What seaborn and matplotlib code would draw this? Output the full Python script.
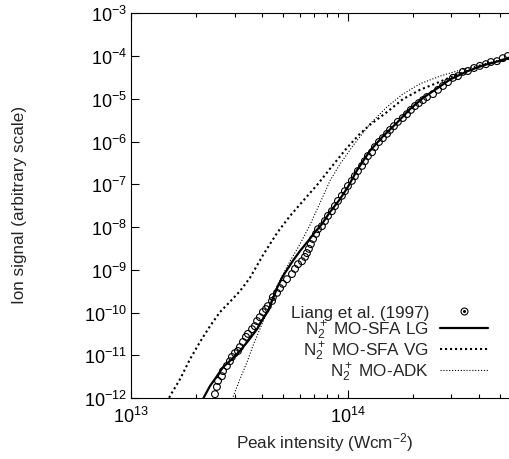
import numpy as np
import matplotlib
matplotlib.use("Agg")
import matplotlib.pyplot as plt
import seaborn as sns
from matplotlib.lines import Line2D
from matplotlib.ticker import LogLocator, NullLocator

# values, stored as log10(intensity / W cm^-2) and log10(signal)
exp_log_i = [13.387, 13.396, 13.401, 13.419, 13.424, 13.442, 13.456, 13.465, 13.479, 13.493,
             13.502, 13.516, 13.530, 13.539, 13.558, 13.571, 13.581, 13.594, 13.608, 13.622,
             13.631, 13.650, 13.654, 13.673, 13.687, 13.700, 13.719, 13.742, 13.756, 13.770,
             13.788, 13.802, 13.811, 13.820, 13.829, 13.839, 13.853, 13.862, 13.880, 13.894,
             13.908, 13.926, 13.940, 13.954, 13.972, 13.986, 14.000, 14.018, 14.032, 14.046,
             14.065, 14.078, 14.092, 14.111, 14.124, 14.143, 14.161, 14.180, 14.194, 14.212,
             14.230, 14.253, 14.272, 14.290, 14.309, 14.327, 14.346, 14.364, 14.392, 14.415,
             14.438, 14.461, 14.484, 14.507, 14.530, 14.553, 14.581, 14.608, 14.636, 14.659,
             14.687, 14.714, 14.737]
exp_log_s = [-11.91, -11.74, -11.60, -11.49, -11.37, -11.25, -11.14, -11.04, -10.95, -10.90,
             -10.81, -10.69, -10.57, -10.50, -10.39, -10.32, -10.20, -10.11, -9.99, -9.92,
             -9.85, -9.73, -9.64, -9.54, -9.43, -9.33, -9.22, -9.10, -8.98, -8.87,
             -8.80, -8.70, -8.61, -8.51, -8.40, -8.28, -8.16, -8.05, -7.98, -7.86,
             -7.74, -7.63, -7.51, -7.39, -7.27, -7.16, -7.04, -6.92, -6.81, -6.69,
             -6.57, -6.46, -6.34, -6.25, -6.13, -6.01, -5.92, -5.82, -5.73, -5.64,
             -5.54, -5.45, -5.36, -5.26, -5.17, -5.10, -5.03, -4.96, -4.89, -4.79,
             -4.70, -4.61, -4.51, -4.47, -4.37, -4.35, -4.28, -4.23, -4.19, -4.14,
             -4.12, -4.05, -4.00]

lg_log_i = [13.332, 13.364, 13.396, 13.424, 13.465, 13.502, 13.539, 13.581, 13.608, 13.631,
            13.654, 13.677, 13.700, 13.742, 13.779, 13.816, 13.848, 13.880, 13.917, 13.963,
            14.000, 14.041, 14.101, 14.161, 14.226, 14.286, 14.346, 14.410, 14.470, 14.548,
            14.622, 14.700, 14.760]
lg_log_s = [-12.02, -11.72, -11.49, -11.28, -11.09, -10.90, -10.67, -10.39, -10.15, -9.97,
            -9.68, -9.38, -9.15, -8.82, -8.56, -8.33, -8.12, -7.93, -7.65, -7.35,
            -7.06, -6.68, -6.22, -5.88, -5.56, -5.24, -4.98, -4.76, -4.55, -4.36,
            -4.22, -4.11, -4.01]

vg_log_i = [13.166, 13.180, 13.226, 13.272, 13.318, 13.364, 13.410, 13.456, 13.502, 13.548,
            13.608, 13.673, 13.733, 13.793, 13.862, 13.931, 13.995, 14.055, 14.101, 14.180,
            14.253, 14.332, 14.410, 14.484, 14.548, 14.608, 14.700, 14.760]
vg_log_s = [-12.10, -11.95, -11.56, -11.09, -10.69, -10.32, -9.99, -9.75, -9.50, -9.19,
            -8.66, -8.14, -7.74, -7.39, -6.99, -6.55, -6.15, -5.82, -5.61, -5.31,
            -5.01, -4.79, -4.63, -4.47, -4.35, -4.23, -4.12, -4.03]

adk_log_i = [13.465, 13.470, 13.502, 13.535, 13.562, 13.594, 13.627, 13.654, 13.687, 13.733,
             13.779, 13.825, 13.871, 13.917, 13.963, 14.023, 14.101, 14.180, 14.253, 14.332,
             14.424, 14.516, 14.608, 14.700, 14.760]
adk_log_s = [-12.10, -11.98, -11.56, -11.16, -10.78, -10.39, -9.99, -9.61, -9.24, -8.80,
             -8.40, -7.95, -7.44, -6.92, -6.53, -6.10, -5.59, -5.19, -4.89, -4.65,
             -4.47, -4.33, -4.21, -4.09, -4.02]

labels = ["Liang et al. (1997)", "N$_2^+$ MO-SFA LG", "N$_2^+$ MO-SFA VG", "N$_2^+$ MO-ADK"]

sns.set_theme(style="ticks")
plt.rcParams["font.family"] = ["Liberation Sans", "DejaVu Sans"]
plt.rcParams["mathtext.fontset"] = "custom"
plt.rcParams["mathtext.rm"] = "Liberation Sans"
plt.rcParams["mathtext.it"] = "Liberation Sans:italic"
plt.rcParams["mathtext.bf"] = "Liberation Sans:bold"

fs = 12.3
fig = plt.figure(figsize=(5.1, 4.6), dpi=100)
ax = fig.add_axes([131 / 510, 61 / 460, 379 / 510, 384.7 / 460])

vg_style = (0, (1, 1.4))
adk_style = (0, (1, 1.6))

sns.lineplot(x=10 ** np.array(vg_log_i), y=10 ** np.array(vg_log_s), ax=ax, color="black",
             lw=1.5, linestyle=vg_style, sort=False, estimator=None)
sns.lineplot(x=10 ** np.array(adk_log_i), y=10 ** np.array(adk_log_s), ax=ax, color="black",
             lw=0.8, linestyle=adk_style, sort=False, estimator=None)
sns.lineplot(x=10 ** np.array(lg_log_i), y=10 ** np.array(lg_log_s), ax=ax, color="black",
             lw=1.6, sort=False, estimator=None)
sns.scatterplot(x=10 ** np.array(exp_log_i), y=10 ** np.array(exp_log_s), ax=ax, marker="o",
                s=24, facecolors="none", edgecolors="black", linewidths=0.8, zorder=3)

ax.set_xscale("log")
ax.set_yscale("log")
ax.set_xlim(1e13, 10 ** 14.747)
ax.set_ylim(1e-12, 1e-3)

ax.xaxis.set_major_locator(LogLocator(base=10, numticks=10))
ax.xaxis.set_minor_locator(LogLocator(base=10, subs=np.arange(2, 10), numticks=20))
ax.yaxis.set_major_locator(LogLocator(base=10, numticks=20))
ax.yaxis.set_minor_locator(NullLocator())
ax.tick_params(which="both", direction="in", top=True, right=False, color="black", width=0.8)
ax.tick_params(which="major", length=5.5, labelsize=13, labelcolor="black")
ax.tick_params(which="minor", length=3)
ax.tick_params(axis="x", pad=6)
ax.tick_params(axis="y", pad=3)
for side in ["left", "bottom", "top"]:
    ax.spines[side].set_color("black")
    ax.spines[side].set_linewidth(0.8)
ax.spines["right"].set_visible(False)
ax.set_xlabel("")
ax.set_ylabel("")

fig.text(324.5 / 510, 1 - 443 / 460, "Peak intensity (Wcm$^{-2}$)", ha="center", va="center", fontsize=fs)
fig.text(20 / 510, 1 - 205 / 460, "Ion signal (arbitrary scale)", ha="center", va="center",
         rotation=90, fontsize=fs)

h_exp = (Line2D([], [], ls="none", marker="o", ms=5, mfc="none", mec="black", mew=0.8),
         Line2D([], [], ls="none", marker="o", ms=1.2, color="black"))
h_lg = Line2D([], [], color="black", lw=1.6)
h_vg = Line2D([], [], color="black", lw=1.5, linestyle=vg_style)
h_adk = Line2D([], [], color="black", lw=0.8, linestyle=adk_style)
ax.legend([h_exp, h_lg, h_vg, h_adk], labels, loc="lower right",
          bbox_to_anchor=(488 / 510, 1 - 384 / 460), bbox_transform=fig.transFigure,
          frameon=False, markerfirst=False, handlelength=2.8, handletextpad=0.65,
          labelspacing=-0.08, borderpad=0, borderaxespad=0, fontsize=fs)

fig.savefig("out.png", dpi=100)
